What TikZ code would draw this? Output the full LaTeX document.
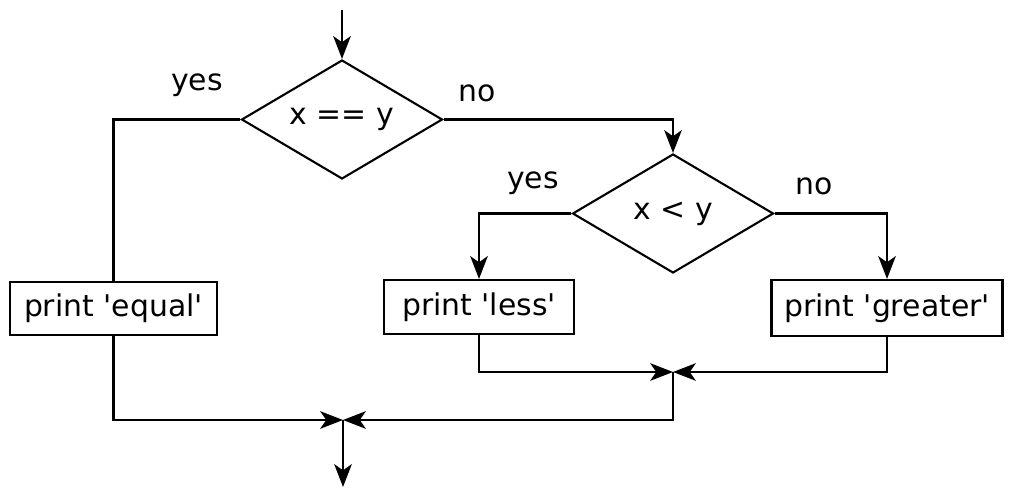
\documentclass[tikz,border=0pt]{standalone}
\usepackage{fontspec}
\setmainfont{DejaVu Sans}
\usetikzlibrary{shapes.geometric,arrows.meta}

\begin{document}
\begin{tikzpicture}[x=0.02cm,y=-0.02cm,
  font=\fontsize{17}{20}\selectfont,
  line width=1.2pt,
  test/.style={draw,diamond,shape aspect=1.7,inner sep=0pt,minimum width=4.02cm,minimum height=2.38cm},
  stmt/.style={draw,rectangle,inner sep=0pt,minimum height=1.08cm},
  flow/.style={-{Stealth[length=13pt,width=10pt,inset=3.5pt]}}]
\path[use as bounding box] (0,0) rectangle (1016,489);

\coordinate (start) at (342,10);
\node[test] (eq) at (342,119.5) {x == y};
\node[test] (lt) at (673,213.5) {x < y};
\node[stmt,minimum width=4.14cm,minimum height=1.06cm] (equal) at (113.5,308.5) {print \textquotesingle equal\textquotesingle};
\node[stmt,minimum width=3.8cm] (less) at (479,307) {print \textquotesingle less\textquotesingle};
\node[stmt,minimum width=4.62cm,minimum height=1.12cm] (greater) at (887,308) {print \textquotesingle greater\textquotesingle};
\coordinate (j1) at (673,372);
\coordinate (j2) at (343,420);
\coordinate (end) at (343,487);

\path[draw,flow] (start) -- (eq);
\path[draw] (eq.west) -| (equal.north);
\path[draw,flow] (eq.east) -| (lt.north);
\path[draw,flow] (lt.west) -| (less.north);
\path[draw,flow] (lt.east) -| (greater.north);
\path[draw,flow] (less.south) |- (j1);
\path[draw,flow] (greater.south) |- (j1);
\path[draw,flow] (j1) |- (j2);
\path[draw,flow] (equal.south) |- (j2);
\path[draw,flow] (j2) -- (end);

\node (yes1) at (197,85) {yes};
\node (no1) at (477,93) {no};
\node (yes2) at (533,183) {yes};
\node (no2) at (814,186) {no};
\end{tikzpicture}
\end{document}
